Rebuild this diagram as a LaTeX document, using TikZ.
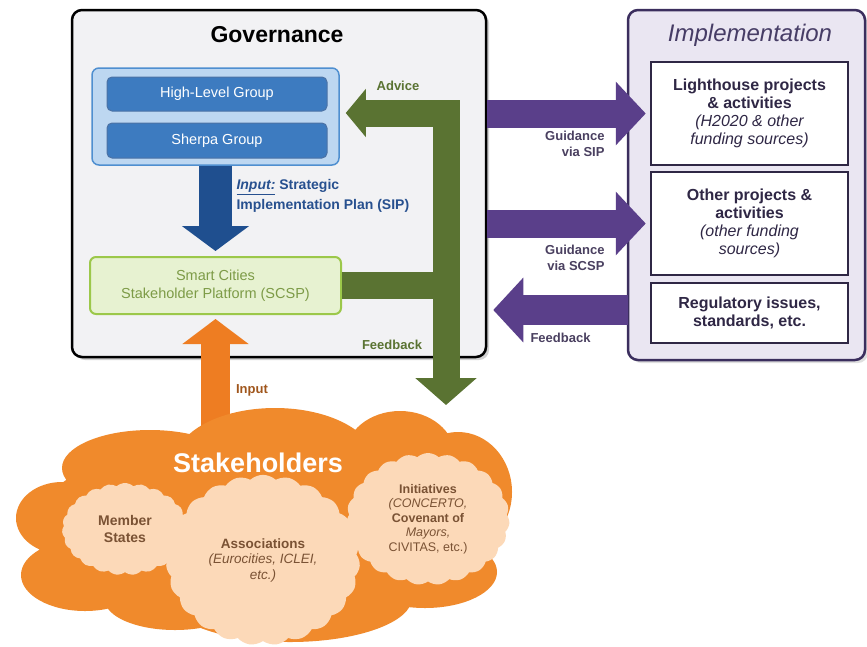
\documentclass[tikz,border=0pt]{standalone}
\usepackage{fontspec}
\setmainfont{Liberation Sans}
\usetikzlibrary{arrows.meta,shapes.symbols,shadows,calc}
\definecolor{govfill}{HTML}{F2F2F4}
\definecolor{bluefill}{HTML}{BDD7F1}
\definecolor{blueedge}{HTML}{4F8FD0}
\definecolor{bluedark}{HTML}{3D7BC0}
\definecolor{bluearrowc}{HTML}{1F4F8F}
\definecolor{bluetext}{HTML}{27508F}
\definecolor{scspfill}{HTML}{E7F2D1}
\definecolor{scspedge}{HTML}{9CC84A}
\definecolor{scsptext}{HTML}{7D9B47}
\definecolor{olive}{HTML}{5A7332}
\definecolor{implfill}{HTML}{EAE6F2}
\definecolor{impledge}{HTML}{3B2E5E}
\definecolor{impltext}{HTML}{473D66}
\definecolor{purparrc}{HTML}{5A3F8A}
\definecolor{purptext}{HTML}{4A4060}
\definecolor{boxtext}{HTML}{2F2745}
\definecolor{orarrc}{HTML}{EE7D22}
\definecolor{cloudor}{HTML}{F08A2C}
\definecolor{peach}{HTML}{FCD9B8}
\definecolor{cloudtext}{HTML}{7A5234}
\definecolor{inputtext}{HTML}{A0561C}
\tikzset{
  govbox/.style={draw=black, line width=2.5pt, fill=govfill, rounded corners=10pt,
    drop shadow={shadow xshift=3pt, shadow yshift=-3pt, opacity=0.35}},
  implbox/.style={draw=impledge, line width=2.5pt, fill=implfill, rounded corners=10pt,
    drop shadow={shadow xshift=3pt, shadow yshift=-3pt, opacity=0.25}},
  bluebox/.style={draw=blueedge, line width=1.5pt, fill=bluefill, rounded corners=7pt},
  groupbox/.style={draw=bluearrowc!80, line width=1pt, fill=bluedark, rounded corners=5pt,
    minimum width=220pt, minimum height=34pt, text=white, font=\fontsize{14.5}{17}\selectfont},
  scspbox/.style={draw=scspedge, line width=2pt, fill=scspfill, rounded corners=6pt,
    minimum width=251pt, minimum height=57pt, text=scsptext, align=center,
    font=\fontsize{14.5}{18}\selectfont},
  projbox/.style={draw=boxtext, line width=2.5pt, fill=white, minimum width=197pt,
    text=boxtext, align=center, font=\bfseries\fontsize{16}{18}\selectfont},
  bluearr/.style={draw=bluearrowc, line width=33pt, -{Triangle[length=25pt,width=66pt]}},
  orarr/.style={draw=orarrc, line width=29pt, -{Triangle[length=25pt,width=65pt]}},
  greenarr/.style={draw=olive, line width=27pt, line join=miter,
    {Triangle[length=20pt,width=47pt]}-{Triangle[length=27pt,width=60pt]}},
  greenline/.style={draw=olive, line width=27pt},
  purparr/.style={draw=purparrc, line width=28pt, -{Triangle[length=30pt,width=62pt]}},
  glabel/.style={text=olive, font=\bfseries\fontsize{13}{15}\selectfont},
  plabel/.style={text=purptext, align=right, font=\bfseries\fontsize{13}{15.5}\selectfont},
  smallcloud/.style={cloud, cloud puffs=23, cloud puff arc=85, fill=peach, draw=none,
    text=cloudtext, align=center, font=\fontsize{13.5}{15.5}\selectfont}
}
\begin{document}
\begin{tikzpicture}[x=1pt,y=-1pt]
\useasboundingbox (0,0) rectangle (867,646);
\fill[white] (0,0) rectangle (867,646);

% Governance
\node[govbox, minimum width=414pt, minimum height=347pt] (gov) at (279,183.5) {};
\node[font=\bfseries\fontsize{23}{26}\selectfont] (govt) at (277,35) {Governance};
\node[bluebox, minimum width=247pt, minimum height=97pt] (bluegrp) at (215.5,116.5) {};
\node[groupbox] (hlg) at (217,94) {High-Level Group};
\node[groupbox, minimum height=35pt] (sherpa) at (217,140.5) {Sherpa Group};
\node[scspbox] (scsp) at (215.5,285.5) {Smart Cities\\Stakeholder Platform (SCSP)};
\node[anchor=west, text=bluetext, align=left, font=\bfseries\fontsize{14}{20}\selectfont]
  (sip) at (233,196) {\underline{\itshape Input:} Strategic\\Implementation Plan (SIP)};

% Implementation
\node[implbox, minimum width=237pt, minimum height=350pt] (impl) at (746.5,185) {};
\node[text=impltext, font=\itshape\fontsize{24}{26}\selectfont] (implt) at (750,35) {Implementation};
\node[projbox, minimum height=103pt] (lh) at (749.5,113.5)
  {Lighthouse projects\\\&{} activities\\\normalfont\itshape (H2020 \&{} other\\\normalfont\itshape funding sources)};
\node[projbox, minimum height=103pt] (oth) at (749.5,223.5)
  {Other projects \&\\activities\\\normalfont\itshape (other funding\\\normalfont\itshape sources)};
\node[projbox, minimum height=60pt] (reg) at (749.5,313)
  {Regulatory issues,\\standards, etc.};

% Blue arrow
\draw[bluearr] (bluegrp.south) -- ($(scsp.north)+(0,-5)$);

% Green arrows
\draw[greenline] (scsp.east) -- (446,285.5);
\draw[greenarr] ($(bluegrp.east)+(6,-3.5)$) -| (446,405);
\node[glabel] (adv) at (398,86) {Advice};
\node[glabel] (fb1) at (392,345) {Feedback};

% Purple arrows
\draw[purparr] (gov.east |- lh.west) -- ($(lh.west)+(-4,0)$);
\draw[purparr] (gov.east |- oth.west) -- ($(oth.west)+(-4,0)$);
\coordinate (fbstart) at (628,310);
\draw[purparr, line width=30pt, -{Triangle[length=30pt,width=63pt]}] (fbstart) -- ($(gov.east |- fbstart)+(6,0)$);
\node[plabel, anchor=north east] (gsip) at (608,128) {Guidance\\via SIP};
\node[plabel, anchor=north east] (gscsp) at (608,242) {Guidance\\via SCSP};
\node[plabel, anchor=west] (fb2) at (527,338) {Feedback};

% Orange arrow
\coordinate (stk) at (215.5,440);
\draw[orarr] (stk) -- ($(scsp.south)+(0,4)$);
\node[text=inputtext, font=\bfseries\fontsize{13}{15}\selectfont] (inp) at (252,390) {Input};

% Big stakeholder cloud
\fill[cloudor]
  (265,525) ellipse [x radius=228, y radius=92]
  (275,462) ellipse [x radius=100, y radius=54]
  (150,468) ellipse [x radius=88, y radius=38]
  (400,456) ellipse [x radius=55, y radius=45]
  (458,492) ellipse [x radius=54, y radius=60]
  (62,518) ellipse [x radius=46, y radius=36]
  (85,575) ellipse [x radius=64, y radius=36]
  (290,598) ellipse [x radius=122, y radius=44]
  (425,572) ellipse [x radius=72, y radius=36]
  (175,600) ellipse [x radius=70, y radius=30];
\node[text=white, font=\bfseries\fontsize{27}{30}\selectfont] (staket) at (258,463) {Stakeholders};
\node[smallcloud, minimum width=126pt, minimum height=92pt, font=\bfseries\fontsize{14}{17}\selectfont] (ms) at (125,529) {Member\\States};
\node[smallcloud, minimum width=194pt, minimum height=126pt] (assoc) at (263,560)
  {\bfseries Associations\\\normalfont\itshape (Eurocities, ICLEI,\\\normalfont\itshape etc.)};
\node[smallcloud, minimum width=163pt, minimum height=132pt, font=\fontsize{12.5}{14.5}\selectfont] (init) at (428,519)
  {\bfseries Initiatives\\\normalfont\itshape (CONCERTO,\\\normalfont\bfseries Covenant of\\\normalfont\itshape Mayors,\\\normalfont CIVITAS, etc.)};
\end{tikzpicture}
\end{document}
